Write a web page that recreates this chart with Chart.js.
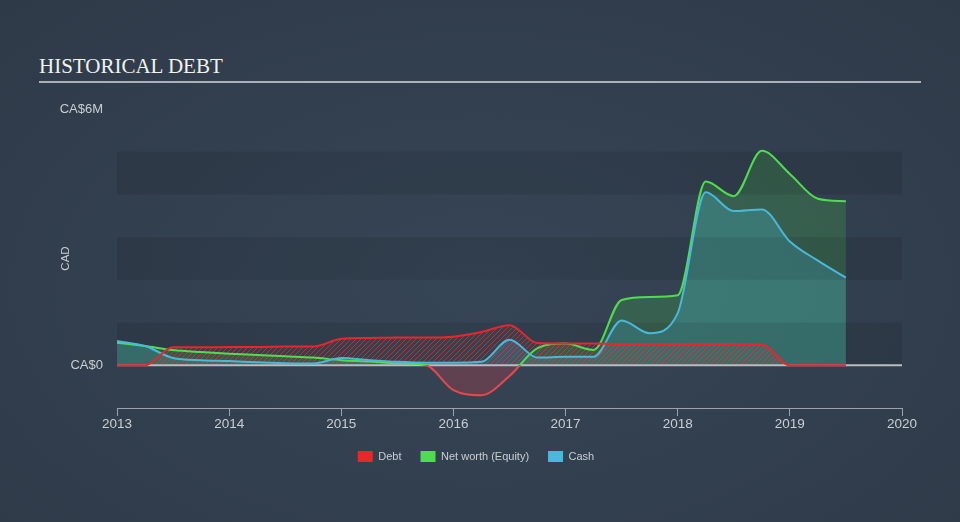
<!DOCTYPE html>
<html>
<head>
<meta charset="utf-8">
<script src="https://cdn.jsdelivr.net/npm/chart.js@4/dist/chart.umd.min.js"></script>
<style>
  html, body { margin:0; padding:0; }
  body {
    width:960px; height:522px; overflow:hidden; position:relative;
    background: radial-gradient(ellipse at 50% 55%, #364556 0%, #323f4e 55%, #2e3a48 100%);
  }
  #title {
    position:absolute; left:39px; top:54px;
    font-family:"Liberation Serif", "DejaVu Serif", serif; font-size:21px;
    color:#f2f2f2; letter-spacing:0; white-space:nowrap;
  }
  #rule { position:absolute; left:39px; top:81px; width:882px; height:2px; background:#a9b0b8; }
  #wrap { position:absolute; left:0; top:0; width:960px; height:522px; }
</style>
</head>
<body>
<div id="title">HISTORICAL DEBT</div>
<div id="rule"></div>
<div id="wrap"><canvas id="chart" width="960" height="522"></canvas></div>
<script>
// quarterly points, values in CA$ millions
const dates  = [2013.00, 2013.25, 2013.50, 2013.75, 2014.00, 2014.25, 2014.50, 2014.75,
                2015.00, 2015.25, 2015.50, 2015.75, 2016.00, 2016.25, 2016.50, 2016.75,
                2017.00, 2017.25, 2017.50, 2017.75, 2018.00, 2018.25, 2018.50, 2018.75,
                2019.00, 2019.25, 2019.50];
const debt   = [0, 0, 0.42, 0.42, 0.43, 0.43, 0.44, 0.44,
                0.62, 0.64, 0.65, 0.65, 0.67, 0.78, 0.94, 0.52,
                0.51, 0.51, 0.50, 0.50, 0.50, 0.50, 0.50, 0.49,
                0, 0, 0];
const equity = [0.53, 0.45, 0.36, 0.31, 0.27, 0.24, 0.21, 0.18,
                0.12, 0.09, 0.05, 0.01, -0.58, -0.70, -0.25, 0.40,
                0.51, 0.36, 1.53, 1.60, 1.64, 4.30, 3.96, 5.02,
                4.48, 3.90, 3.84];
const cash   = [0.57, 0.45, 0.17, 0.12, 0.10, 0.07, 0.05, 0.04,
                0.17, 0.12, 0.08, 0.06, 0.06, 0.08, 0.60, 0.18,
                0.20, 0.20, 1.05, 0.75, 1.22, 4.05, 3.61, 3.65,
                2.90, 2.45, 2.05];
const seriesNames = ["Debt", "Net worth (Equity)", "Cash"];
const yTicks = [0, 6];
const xTicks = [2013, 2014, 2015, 2016, 2017, 2018, 2019, 2020];
const bands = [[0, 1], [2, 3], [4, 5]];

const RED = "#e8262b", GREEN = "#4fdd4f", BLUE = "#4ab8da", NEG = "#e5484d";
const TXT = "#c9ced4";

function pts(vals){ return dates.map((d,i)=>({ x:d, y:vals[i] })); }

// hatched fill for debt
function hatch(){
  const c = document.createElement("canvas");
  c.width = 5; c.height = 5;
  const g = c.getContext("2d");
  g.fillStyle = "rgba(220,60,60,0.12)";
  g.fillRect(0,0,5,5);
  g.strokeStyle = "rgba(232,80,80,0.55)";
  g.lineWidth = 1;
  g.beginPath();
  g.moveTo(0,5); g.lineTo(5,0);
  g.moveTo(-1,1); g.lineTo(1,-1);
  g.moveTo(4,6); g.lineTo(6,4);
  g.stroke();
  return g.createPattern(c, "repeat");
}

function equityStroke(ctx){
  const chart = ctx.chart;
  const area = chart.chartArea;
  if(!area) return GREEN;
  const y0 = chart.scales.y.getPixelForValue(0);
  const g = chart.ctx.createLinearGradient(0, area.top, 0, area.bottom);
  const s = Math.min(1, Math.max(0, (y0 - area.top) / (area.bottom - area.top)));
  g.addColorStop(0, GREEN); g.addColorStop(s, GREEN);
  g.addColorStop(s, NEG); g.addColorStop(1, NEG);
  return g;
}

// alternating background bands
const bandPlugin = {
  id: "bands",
  beforeDatasetsDraw(chart){
    const { ctx, chartArea, scales } = chart;
    ctx.save();
    ctx.fillStyle = "rgba(0,0,0,0.085)";
    bands.forEach(b=>{
      const y1 = scales.y.getPixelForValue(b[1]);
      const y0 = scales.y.getPixelForValue(b[0]);
      ctx.fillRect(chartArea.left, y1, chartArea.right - chartArea.left, y0 - y1);
    });
    ctx.restore();
  }
};
// zero line
const zeroPlugin = {
  id: "zero",
  beforeDatasetsDraw(chart){
    const { ctx, chartArea, scales } = chart;
    const y = scales.y.getPixelForValue(0);
    ctx.save();
    ctx.strokeStyle = "#b9bdc2";
    ctx.lineWidth = 2;
    ctx.beginPath();
    ctx.moveTo(chartArea.left, y); ctx.lineTo(chartArea.right, y);
    ctx.stroke();
    ctx.restore();
  }
};

Chart.defaults.font.family = '"Liberation Sans", Arial, sans-serif';
Chart.defaults.color = TXT;

const legendColors = [RED, GREEN, BLUE];

new Chart(document.getElementById("chart"), {
  type: "line",
  data: {
    datasets: [
      { label: seriesNames[0], data: pts(debt), order: 0,
        borderColor: RED, borderWidth: 2, backgroundColor: hatch(),
        fill: "origin" },
      { label: seriesNames[1], data: pts(equity), order: 2,
        borderColor: equityStroke, borderWidth: 2,
        fill: { target: "origin", above: "rgba(77,220,77,0.2)", below: "rgba(225,60,70,0.25)" } },
      { label: seriesNames[2], data: pts(cash), order: 1,
        borderColor: BLUE, borderWidth: 2, backgroundColor: "rgba(74,184,217,0.27)",
        fill: "origin" }
    ]
  },
  options: {
    animation: false,
    responsive: false,
    events: [],
    elements: { point: { radius: 0 }, line: { cubicInterpolationMode: "monotone" } },
    layout: { padding: { top: 109, left: 50, right: 58, bottom: 50 } },
    plugins: {
      filler: { drawTime: "beforeDatasetsDraw" },
      tooltip: { enabled: false },
      legend: {
        position: "bottom",
        labels: {
          boxWidth: 15, boxHeight: 11, padding: 19,
          color: TXT, font: { size: 11 },
          generateLabels(chart){
            return chart.data.datasets.map((d,i)=>({
              text: d.label, fillStyle: legendColors[i], strokeStyle: legendColors[i],
              lineWidth: 0, datasetIndex: i, fontColor: TXT, hidden: false
            }));
          }
        }
      }
    },
    scales: {
      x: {
        type: "linear", min: 2013, max: 2020,
        afterBuildTicks(axis){ axis.ticks = xTicks.map(v=>({ value:v })); },
        afterFit(axis){ axis.height = 24; },
        border: { display: true, color: "#9aa3ad", width: 1 },
        grid: { display: true, drawOnChartArea: false, drawTicks: true, tickLength: 8, color: "#9aa3ad" },
        ticks: { padding: 0, color: TXT, font: { size: 13.5 }, maxRotation: 0, callback: v => String(v) }
      },
      y: {
        min: -1, max: 6,
        afterBuildTicks(axis){ axis.ticks = yTicks.map(v=>({ value:v })); },
        afterFit(axis){ axis.width = 67; },
        border: { display: false },
        grid: { display: false, drawTicks: false },
        title: { display: true, text: "CAD", color: TXT, font: { size: 11.5 }, padding: { top: 9, bottom: 0 } },
        ticks: { padding: 14, color: TXT, font: { size: 13 }, callback: v => v === 0 ? "CA$0" : "CA$" + v + "M" }
      }
    }
  },
  plugins: [bandPlugin, zeroPlugin]
});
</script>
</body>
</html>
